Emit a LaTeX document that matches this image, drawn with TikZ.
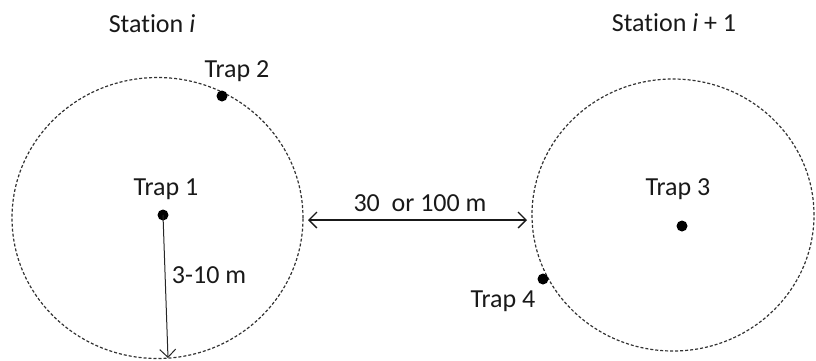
\documentclass[tikz,border=0pt]{standalone}
\usepackage{fontspec}
\setmainfont{Carlito}[Ligatures={NoCommon}]
\usetikzlibrary{arrows.meta,shapes.geometric}
\begin{document}
\begin{tikzpicture}[x=1pt,y=-1pt,
  lbl/.style={font=\fontsize{26}{28}\selectfont, inner sep=0pt, text=black!90},
  dot/.style={circle, fill=black, inner sep=0pt, minimum size=11pt},
  zone/.style={ellipse, draw=black!80, dash pattern=on 3pt off 2pt, line width=1.2pt, inner sep=0pt},
  arr/.style={line width=1.3pt, draw=black!90, {Straight Barb[length=8pt,width=16pt,line width=1.3pt]}-{Straight Barb[length=8pt,width=16pt,line width=1.3pt]}},
  sarr/.style={line width=1pt, draw=black!85, -{Straight Barb[length=8pt,width=16pt,line width=1pt]}}]
\useasboundingbox (0,0) rectangle (816,360);
\node[zone, minimum width=291pt, minimum height=281pt] (st1) at (157.5,218) {};
\node[zone, minimum width=282pt, minimum height=272pt] (st2) at (673,215) {};
\node[lbl] (s1) at (152,24) {Station \textit{i}};
\node[lbl] (s2) at (674,23) {Station \textit{i} + 1};
\node[dot] (t1) at (163,215) {};
\node[dot] (t2) at (222,96) {};
\node[dot] (t3) at (682,226) {};
\node[dot] (t4) at (543,279) {};
\node[lbl] (l1) at (166,189) {Trap 1};
\node[lbl] (l2) at (237,71) {Trap 2};
\node[lbl] (l3) at (678,189) {Trap 3};
\node[lbl] (l4) at (503,301) {Trap 4};
\coordinate (a1) at (308,220);
\coordinate (a2) at (527,220);
\draw[arr] (a1) -- (a2);
\node[lbl] (d) at (420,203) {30\ \ or 100 m};
\coordinate (rb) at (168,358);
\draw[sarr] (t1.center) -- (rb);
\node[lbl] (r) at (209,275) {3-10 m};
\end{tikzpicture}
\end{document}
